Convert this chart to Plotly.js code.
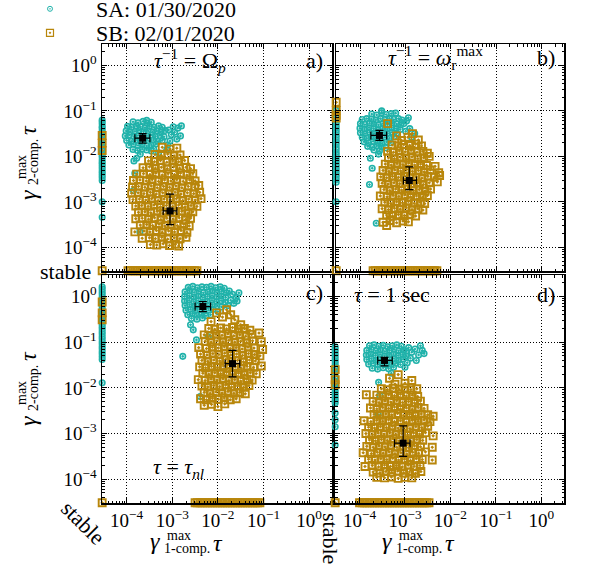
<!DOCTYPE html>
<html><head><meta charset="utf-8">
<script src="https://cdn.plot.ly/plotly-3.0.1.min.js"></script>
<style>html,body{margin:0;padding:0;background:#fff}</style>
</head><body><div id="chart" style="width:590px;height:572px"></div>
<script>
// All values are log10 exponents: [log10(gamma1*tau), log10(gamma2*tau)]
const seriesNames = ['SA: 01/30/2020', 'SB: 02/01/2020'];
const panelLabels = ['a)', 'b)', 'c)', 'd)'];

// ---------- panel a) tau^-1 = Omega_p ----------
const aSA = [[-3.86,-1.24],[-3.75,-1.26],[-3.64,-1.23],[-3.55,-1.27],[-3.46,-1.25],[-3.56,-1.21],
[-3.98,-1.34],[-3.89,-1.36],[-3.79,-1.33],[-3.70,-1.35],[-3.60,-1.37],[-3.50,-1.34],[-3.40,-1.36],[-3.30,-1.33],[-3.22,-1.36],
[-4.01,-1.44],[-3.92,-1.46],[-3.82,-1.45],[-3.73,-1.43],[-3.63,-1.46],[-3.53,-1.44],[-3.43,-1.47],[-3.34,-1.44],[-3.25,-1.46],[-3.16,-1.43],
[-4.03,-1.55],[-3.94,-1.53],[-3.84,-1.56],[-3.75,-1.54],[-3.65,-1.57],[-3.56,-1.55],[-3.46,-1.53],[-3.37,-1.56],[-3.27,-1.54],[-3.18,-1.57],
[-4.00,-1.65],[-3.90,-1.67],[-3.80,-1.64],[-3.70,-1.66],[-3.61,-1.63],[-3.51,-1.66],[-3.41,-1.64],[-3.31,-1.67],[-3.22,-1.65],
[-3.95,-1.75],[-3.85,-1.73],[-3.75,-1.76],[-3.66,-1.74],[-3.56,-1.77],[-3.46,-1.75],[-3.36,-1.73],
[-3.86,-1.85],[-3.76,-1.87],[-3.66,-1.84],[-3.56,-1.86],[-3.46,-1.88],[-3.41,-1.83],
[-3.08,-1.42],[-3.02,-1.52],[-2.95,-1.47],[-2.88,-1.38],[-2.82,-1.55],[-2.90,-1.62],[-3.05,-1.66],[-2.98,-1.35],[-3.10,-1.75],[-2.80,-1.33],
[-3.78,-2.04],[-3.84,-2.10],[-3.82,-2.37],[-3.85,-2.75],[-3.71,-3.66],[-3.30,-1.92],[-3.12,-1.85],[-3.70,-1.95]];
const aSB = [[-3.22,-1.80],[-3.05,-1.84],[-2.90,-1.82],
[-3.38,-1.96],[-3.24,-1.98],[-3.10,-1.95],[-2.96,-1.99],[-2.83,-1.97],
[-3.52,-2.10],[-3.39,-2.12],[-3.26,-2.09],[-3.12,-2.13],[-2.99,-2.10],[-2.86,-2.12],[-2.73,-2.09],
[-3.64,-2.25],[-3.50,-2.23],[-3.37,-2.26],[-3.24,-2.24],[-3.11,-2.27],[-2.97,-2.23],[-2.84,-2.26],[-2.70,-2.24],[-2.60,-2.27],
[-3.78,-2.39],[-3.63,-2.38],[-3.49,-2.40],[-3.36,-2.37],[-3.22,-2.41],[-3.09,-2.38],[-2.95,-2.40],[-2.82,-2.37],[-2.68,-2.41],[-2.55,-2.38],
[-3.85,-2.53],[-3.71,-2.52],[-3.57,-2.54],[-3.44,-2.51],[-3.30,-2.55],[-3.17,-2.52],[-3.03,-2.54],[-2.90,-2.51],[-2.76,-2.55],[-2.62,-2.52],[-2.50,-2.54],
[-3.87,-2.67],[-3.74,-2.66],[-3.60,-2.68],[-3.46,-2.65],[-3.33,-2.69],[-3.19,-2.66],[-3.06,-2.68],[-2.92,-2.65],[-2.79,-2.69],[-2.65,-2.66],[-2.51,-2.68],[-2.42,-2.64],
[-3.89,-2.81],[-3.75,-2.80],[-3.62,-2.82],[-3.48,-2.79],[-3.35,-2.83],[-3.21,-2.80],[-3.08,-2.82],[-2.94,-2.79],[-2.81,-2.83],[-2.67,-2.80],[-2.53,-2.82],[-2.40,-2.79],
[-3.86,-2.95],[-3.72,-2.94],[-3.58,-2.96],[-3.45,-2.93],[-3.31,-2.97],[-3.18,-2.94],[-3.04,-2.96],[-2.91,-2.93],[-2.77,-2.97],[-2.64,-2.94],[-2.50,-2.96],[-2.37,-2.93],
[-3.80,-3.09],[-3.67,-3.08],[-3.53,-3.10],[-3.40,-3.07],[-3.26,-3.11],[-3.13,-3.08],[-2.99,-3.10],[-2.86,-3.07],[-2.72,-3.11],[-2.59,-3.08],[-2.46,-3.10],
[-3.74,-3.23],[-3.60,-3.22],[-3.47,-3.24],[-3.33,-3.21],[-3.20,-3.25],[-3.06,-3.22],[-2.93,-3.24],[-2.79,-3.21],[-2.66,-3.25],[-2.55,-3.22],
[-3.80,-3.37],[-3.66,-3.36],[-3.52,-3.38],[-3.39,-3.35],[-3.25,-3.39],[-3.12,-3.36],[-2.98,-3.38],[-2.85,-3.35],[-2.71,-3.39],[-2.60,-3.36],
[-3.70,-3.51],[-3.56,-3.50],[-3.43,-3.52],[-3.29,-3.49],[-3.16,-3.53],[-3.02,-3.50],[-2.89,-3.52],[-2.75,-3.49],[-2.63,-3.53],
[-3.82,-3.66],[-3.62,-3.64],[-3.49,-3.66],[-3.35,-3.63],[-3.22,-3.67],[-3.08,-3.64],[-2.95,-3.66],[-2.81,-3.63],[-2.68,-3.67],
[-3.66,-3.80],[-3.50,-3.79],[-3.37,-3.81],[-3.23,-3.78],[-3.10,-3.82],[-2.96,-3.79],[-2.83,-3.81],[-2.70,-3.78],
[-3.48,-3.94],[-3.34,-3.95],[-3.20,-3.92],[-3.06,-3.96],[-2.93,-3.93],[-2.86,-3.97]];
const aSAstableY = [-1.20,-1.24,-1.29,-1.35,-1.38,-1.44,-1.49,-1.53,-1.58,-1.64,-1.69,-1.73,-1.78,-1.83,-1.87,-1.93,-1.98,-2.02,-2.08,-2.13,-2.17,-2.22,-2.27,-2.33,-2.37,-2.42,-2.47,-2.53,-3.00,-3.34];
const aSBstableY = [-1.54,-1.71,-1.87];
const aSBstableX = [-3.97,-3.92,-3.86,-3.81,-3.75,-3.70,-3.64,-3.58,-3.53,-3.47,-3.41,-3.36,-3.30,-3.24,-3.19,-3.13,-3.07,-3.02,-2.96,-2.91,-2.85,-2.79,-2.74,-2.68,-2.62,-2.57,-2.51,-2.46];

// ---------- panel b) tau^-1 = omega_r^max ----------
const bSA = [[-3.75,-1.07],[-3.64,-1.09],[-3.53,-1.04],[-3.43,-1.08],[-3.32,-1.06],[-3.22,-1.05],
[-3.96,-1.19],[-3.86,-1.17],[-3.76,-1.18],[-3.66,-1.20],[-3.56,-1.17],[-3.46,-1.19],[-3.36,-1.16],[-3.26,-1.19],[-3.16,-1.17],[-3.08,-1.20],
[-4.00,-1.28],[-3.90,-1.30],[-3.80,-1.27],[-3.70,-1.29],[-3.60,-1.31],[-3.50,-1.28],[-3.40,-1.30],[-3.30,-1.27],[-3.20,-1.29],[-3.11,-1.31],
[-4.01,-1.38],[-3.91,-1.40],[-3.81,-1.37],[-3.71,-1.39],[-3.61,-1.41],[-3.51,-1.38],[-3.41,-1.40],[-3.31,-1.37],[-3.21,-1.39],[-3.12,-1.41],
[-4.00,-1.48],[-3.90,-1.50],[-3.80,-1.47],[-3.70,-1.49],[-3.60,-1.51],[-3.50,-1.48],[-3.40,-1.50],[-3.30,-1.47],[-3.20,-1.49],
[-3.96,-1.58],[-3.86,-1.60],[-3.76,-1.57],[-3.66,-1.59],[-3.56,-1.61],[-3.46,-1.58],[-3.36,-1.60],[-3.26,-1.57],
[-3.92,-1.68],[-3.82,-1.70],[-3.72,-1.67],[-3.62,-1.69],[-3.52,-1.71],[-3.42,-1.68],[-3.33,-1.70],
[-3.84,-1.78],[-3.74,-1.80],[-3.64,-1.77],[-3.54,-1.79],[-3.44,-1.81],[-3.70,-1.86],[-3.58,-1.88],
[-3.53,-1.00],[-3.04,-1.28],[-2.91,-1.39],[-2.80,-1.50],[-2.87,-1.58],[-2.94,-1.15],[-3.00,-1.45],[-2.98,-1.22],
[-3.78,-2.04],[-3.74,-2.26],[-3.80,-2.62],[-3.65,-3.47],[-3.60,-1.95]];
const bSB = [[-3.40,-1.28],[-3.09,-1.65],[-2.72,-1.64],[-3.20,-1.55],[-2.95,-1.58],[-2.85,-1.50],
[-3.30,-1.75],[-3.17,-1.77],[-3.04,-1.74],[-2.91,-1.76],[-2.78,-1.73],[-2.65,-1.77],
[-3.40,-1.89],[-3.27,-1.91],[-3.14,-1.88],[-3.01,-1.90],[-2.88,-1.87],[-2.75,-1.91],[-2.62,-1.89],[-2.52,-1.93],
[-3.38,-2.03],[-3.25,-2.05],[-3.12,-2.02],[-2.99,-2.04],[-2.86,-2.01],[-2.73,-2.05],[-2.60,-2.03],[-2.48,-2.00],
[-3.45,-2.17],[-3.32,-2.19],[-3.19,-2.16],[-3.06,-2.18],[-2.93,-2.15],[-2.80,-2.19],[-2.67,-2.17],[-2.54,-2.20],[-2.35,-2.22],
[-3.50,-2.31],[-3.37,-2.33],[-3.24,-2.30],[-3.11,-2.32],[-2.98,-2.29],[-2.85,-2.33],[-2.72,-2.31],[-2.59,-2.34],[-2.46,-2.30],[-2.27,-2.36],
[-3.55,-2.45],[-3.42,-2.47],[-3.29,-2.44],[-3.16,-2.46],[-3.03,-2.43],[-2.90,-2.47],[-2.77,-2.45],[-2.64,-2.48],[-2.51,-2.44],[-2.37,-2.46],[-2.25,-2.42],
[-3.52,-2.59],[-3.39,-2.61],[-3.26,-2.58],[-3.13,-2.60],[-3.00,-2.57],[-2.87,-2.61],[-2.74,-2.59],[-2.61,-2.62],[-2.48,-2.58],[-2.30,-2.56],
[-3.48,-2.73],[-3.35,-2.75],[-3.22,-2.72],[-3.09,-2.74],[-2.96,-2.71],[-2.83,-2.75],[-2.70,-2.73],[-2.57,-2.76],[-2.45,-2.72],
[-3.56,-2.87],[-3.41,-2.89],[-3.28,-2.86],[-3.15,-2.88],[-3.02,-2.85],[-2.89,-2.89],[-2.76,-2.87],[-2.63,-2.90],[-2.52,-2.86],
[-3.46,-3.01],[-3.33,-3.03],[-3.20,-3.00],[-3.07,-3.02],[-2.94,-2.99],[-2.81,-3.03],[-2.68,-3.01],[-2.58,-3.04],
[-3.52,-3.15],[-3.38,-3.17],[-3.25,-3.14],[-3.12,-3.16],[-2.99,-3.13],[-2.86,-3.17],[-2.73,-3.15],[-2.62,-3.18],
[-3.42,-3.29],[-3.29,-3.31],[-3.16,-3.28],[-3.03,-3.30],[-2.90,-3.27],[-2.78,-3.31],
[-3.50,-3.45],[-3.34,-3.41],[-3.20,-3.46],[-3.06,-3.42],[-2.94,-3.44],[-3.42,-3.52]];
const bSAstableY = [-0.99,-1.04,-1.10,-1.15,-1.20,-1.26,-1.31,-1.37,-1.42,-1.47,-1.53,-1.58,-1.64,-1.69,-1.74,-1.80,-1.85,-1.91,-1.96,-2.01,-2.07,-2.12,-2.18,-2.23,-2.29,-2.34,-2.40,-2.45,-2.51,-2.57,-3.00];
const bSBstableY = [-0.81,-0.99,-1.10,-1.16];
const bSBstableX = [-3.72,-3.67,-3.61,-3.56,-3.50,-3.45,-3.39,-3.34,-3.28,-3.23,-3.17,-3.12,-3.06,-3.01,-2.95,-2.90,-2.84,-2.79,-2.73,-2.68,-2.62,-2.57,-2.51,-2.46,-2.40,-2.36,-2.31];

// ---------- panel c) tau = tau_nl ----------
const cSA = [[-2.65,0.20],[-2.55,0.22],[-2.45,0.19],[-2.35,0.21],[-2.25,0.20],[-2.15,0.22],[-2.05,0.19],[-1.95,0.21],[-1.86,0.18],
[-2.72,0.10],[-2.62,0.12],[-2.52,0.09],[-2.42,0.11],[-2.32,0.08],[-2.22,0.10],[-2.12,0.12],[-2.02,0.09],[-1.92,0.11],[-1.82,0.08],
[-2.73,0.00],[-2.63,0.02],[-2.53,-0.01],[-2.43,0.01],[-2.33,-0.02],[-2.23,0.00],[-2.13,0.02],[-2.03,-0.01],[-1.93,0.01],[-1.83,-0.02],
[-2.73,-0.10],[-2.63,-0.08],[-2.53,-0.11],[-2.43,-0.09],[-2.33,-0.12],[-2.23,-0.10],[-2.13,-0.08],[-2.03,-0.11],[-1.93,-0.09],[-1.84,-0.12],
[-2.72,-0.20],[-2.62,-0.18],[-2.52,-0.21],[-2.42,-0.19],[-2.32,-0.22],[-2.22,-0.20],[-2.12,-0.18],[-2.02,-0.21],[-1.92,-0.23],
[-2.70,-0.30],[-2.60,-0.28],[-2.50,-0.31],[-2.40,-0.29],[-2.30,-0.32],[-2.20,-0.30],[-2.10,-0.28],[-2.00,-0.33],
[-2.66,-0.40],[-2.56,-0.38],[-2.46,-0.41],[-2.36,-0.39],[-2.26,-0.42],[-2.16,-0.40],[-2.58,-0.48],[-2.46,-0.50],[-2.34,-0.47],
[-1.75,0.12],[-1.68,0.05],[-1.60,-0.02],[-1.54,0.08],[-1.72,-0.08],[-1.65,-0.15],[-1.78,-0.20],[-1.58,-0.10],
[-2.54,-0.73],[-2.47,-0.95],[-2.77,-1.31],[-2.39,-2.19],[-2.21,-0.88],[-2.60,-0.62]];
const cSB = [[-2.03,-0.36],[-1.81,-0.29],[-1.63,-0.51],[-1.90,-0.45],[-1.72,-0.40],[-2.15,-0.55],[-1.50,-0.62],
[-2.20,-0.70],[-2.07,-0.72],[-1.94,-0.69],[-1.81,-0.71],[-1.68,-0.68],[-1.55,-0.72],[-1.42,-0.70],[-1.30,-0.74],
[-2.30,-0.84],[-2.17,-0.86],[-2.04,-0.83],[-1.91,-0.85],[-1.78,-0.82],[-1.65,-0.86],[-1.52,-0.84],[-1.39,-0.87],[-1.26,-0.83],[-1.10,-0.80],
[-2.28,-0.98],[-2.15,-1.00],[-2.02,-0.97],[-1.89,-0.99],[-1.76,-0.96],[-1.63,-1.00],[-1.50,-0.98],[-1.37,-1.01],[-1.24,-0.97],[-1.05,-0.99],
[-2.42,-1.12],[-2.25,-1.14],[-2.12,-1.11],[-1.99,-1.13],[-1.86,-1.10],[-1.73,-1.14],[-1.60,-1.12],[-1.47,-1.15],[-1.34,-1.11],[-1.21,-1.13],[-1.02,-1.16],
[-2.38,-1.26],[-2.24,-1.28],[-2.11,-1.25],[-1.98,-1.27],[-1.85,-1.24],[-1.72,-1.28],[-1.59,-1.26],[-1.46,-1.29],[-1.33,-1.25],[-1.20,-1.27],[-1.08,-1.30],
[-2.35,-1.40],[-2.22,-1.42],[-2.09,-1.39],[-1.96,-1.41],[-1.83,-1.38],[-1.70,-1.42],[-1.57,-1.40],[-1.44,-1.43],[-1.31,-1.39],[-1.18,-1.41],
[-2.40,-1.54],[-2.27,-1.56],[-2.14,-1.53],[-2.01,-1.55],[-1.88,-1.52],[-1.75,-1.56],[-1.62,-1.54],[-1.49,-1.57],[-1.36,-1.53],[-1.22,-1.55],[-1.05,-1.52],
[-2.33,-1.68],[-2.20,-1.70],[-2.07,-1.67],[-1.94,-1.69],[-1.81,-1.66],[-1.68,-1.70],[-1.55,-1.68],[-1.42,-1.71],[-1.29,-1.67],[-1.16,-1.69],
[-2.43,-1.82],[-2.28,-1.84],[-2.15,-1.81],[-2.02,-1.83],[-1.89,-1.80],[-1.76,-1.84],[-1.63,-1.82],[-1.50,-1.85],[-1.37,-1.81],[-1.25,-1.83],
[-2.35,-1.96],[-2.22,-1.98],[-2.09,-1.95],[-1.96,-1.97],[-1.83,-1.94],[-1.70,-1.98],[-1.57,-1.96],[-1.44,-1.99],[-1.32,-1.95],
[-2.30,-2.10],[-2.17,-2.12],[-2.04,-2.09],[-1.91,-2.11],[-1.78,-2.08],[-1.65,-2.12],[-1.52,-2.10],[-1.40,-2.13],
[-2.38,-2.24],[-2.25,-2.26],[-2.12,-2.23],[-1.99,-2.25],[-1.86,-2.22],[-1.73,-2.26],[-1.60,-2.24],
[-2.30,-2.38],[-2.14,-2.36],[-2.00,-2.41],[-1.85,-2.35]];
const cSAstableY = [0.21,0.16,0.10,0.05,-0.01,-0.06,-0.12,-0.17,-0.22,-0.28,-0.33,-0.39,-0.44,-0.50,-0.55,-0.61,-0.66,-0.71,-0.77,-0.82,-0.88,-0.93,-0.99,-1.04,-1.10,-1.15,-1.21,-1.26,-1.32,-1.38,-1.89];
const cSBstableY = [-0.12,-0.36,-0.51];
const cSBstableX = [-2.50,-2.45,-2.39,-2.34,-2.28,-2.23,-2.17,-2.12,-2.06,-2.01,-1.95,-1.90,-1.84,-1.79,-1.73,-1.68,-1.62,-1.57,-1.51,-1.46,-1.40,-1.35,-1.29,-1.24,-1.18,-1.13,-1.08];

// ---------- panel d) tau = 1 sec ----------
const dSA = [[-3.78,-1.08],[-3.68,-1.06],[-3.58,-1.09],[-3.48,-1.07],[-3.38,-1.10],[-3.28,-1.08],[-3.18,-1.06],[-3.08,-1.09],
[-3.84,-1.18],[-3.74,-1.16],[-3.64,-1.19],[-3.54,-1.17],[-3.44,-1.20],[-3.34,-1.18],[-3.24,-1.16],[-3.14,-1.19],[-3.04,-1.17],[-2.97,-1.20],
[-3.85,-1.28],[-3.75,-1.26],[-3.65,-1.29],[-3.55,-1.27],[-3.45,-1.30],[-3.35,-1.28],[-3.25,-1.26],[-3.15,-1.29],[-3.05,-1.27],[-2.97,-1.30],
[-3.84,-1.38],[-3.74,-1.36],[-3.64,-1.39],[-3.54,-1.37],[-3.44,-1.40],[-3.34,-1.38],[-3.24,-1.36],[-3.14,-1.39],[-3.04,-1.37],
[-3.80,-1.48],[-3.70,-1.46],[-3.60,-1.49],[-3.50,-1.47],[-3.40,-1.50],[-3.30,-1.48],[-3.20,-1.46],[-3.10,-1.49],
[-3.72,-1.57],[-3.60,-1.59],[-3.48,-1.56],[-3.36,-1.58],[-3.25,-1.55],
[-2.92,-1.12],[-2.85,-1.22],[-2.78,-1.15],[-2.70,-1.28],[-2.62,-1.18],[-2.58,-1.25],[-2.88,-1.35],[-2.75,-1.40],[-2.95,-1.45],[-2.66,-1.08],[-3.00,-1.55],
[-3.58,-1.88],[-3.55,-2.17],[-3.59,-2.59],[-3.30,-1.68]];
const dSB = [[-3.34,-1.79],[-3.15,-1.71],[-2.85,-1.84],[-3.85,-2.15],[-3.00,-1.90],[-3.22,-1.92],
[-3.52,-2.02],[-3.39,-2.04],[-3.26,-2.01],[-3.13,-2.03],[-3.00,-2.00],[-2.87,-2.04],[-2.74,-2.02],
[-3.62,-2.16],[-3.49,-2.18],[-3.36,-2.15],[-3.23,-2.17],[-3.10,-2.14],[-2.97,-2.18],[-2.84,-2.16],[-2.72,-2.19],
[-3.70,-2.30],[-3.57,-2.32],[-3.44,-2.29],[-3.31,-2.31],[-3.18,-2.28],[-3.05,-2.32],[-2.92,-2.30],[-2.79,-2.33],[-2.66,-2.29],
[-3.76,-2.44],[-3.62,-2.46],[-3.49,-2.43],[-3.36,-2.45],[-3.23,-2.42],[-3.10,-2.46],[-2.97,-2.44],[-2.84,-2.47],[-2.71,-2.43],[-2.58,-2.45],
[-3.68,-2.58],[-3.55,-2.60],[-3.42,-2.57],[-3.29,-2.59],[-3.16,-2.56],[-3.03,-2.60],[-2.90,-2.58],[-2.77,-2.61],[-2.64,-2.57],[-2.50,-2.59],[-2.38,-2.62],
[-3.90,-2.72],[-3.75,-2.74],[-3.62,-2.71],[-3.49,-2.73],[-3.36,-2.70],[-3.23,-2.74],[-3.10,-2.72],[-2.97,-2.75],[-2.84,-2.71],[-2.71,-2.73],[-2.58,-2.70],[-2.45,-2.74],
[-3.80,-2.86],[-3.67,-2.88],[-3.54,-2.85],[-3.41,-2.87],[-3.28,-2.84],[-3.15,-2.88],[-3.02,-2.86],[-2.89,-2.89],[-2.76,-2.85],[-2.63,-2.87],[-2.50,-2.84],
[-3.86,-3.00],[-3.72,-3.02],[-3.59,-2.99],[-3.46,-3.01],[-3.33,-2.98],[-3.20,-3.02],[-3.07,-3.00],[-2.94,-3.03],[-2.81,-2.99],[-2.68,-3.01],[-2.55,-2.98],[-2.38,-3.05],
[-3.78,-3.14],[-3.65,-3.16],[-3.52,-3.13],[-3.39,-3.15],[-3.26,-3.12],[-3.13,-3.16],[-3.00,-3.14],[-2.87,-3.17],[-2.74,-3.13],[-2.61,-3.15],
[-3.84,-3.28],[-3.70,-3.30],[-3.57,-3.27],[-3.44,-3.29],[-3.31,-3.26],[-3.18,-3.30],[-3.05,-3.28],[-2.92,-3.31],[-2.79,-3.27],[-2.66,-3.29],[-2.40,-3.30],
[-3.92,-3.42],[-3.74,-3.44],[-3.61,-3.41],[-3.48,-3.43],[-3.35,-3.40],[-3.22,-3.44],[-3.09,-3.42],[-2.96,-3.45],[-2.83,-3.41],[-2.70,-3.43],[-2.55,-3.40],
[-3.80,-3.56],[-3.66,-3.58],[-3.53,-3.55],[-3.40,-3.57],[-3.27,-3.54],[-3.14,-3.58],[-3.01,-3.56],[-2.88,-3.59],[-2.75,-3.55],[-2.62,-3.57],[-2.40,-3.58],
[-3.88,-3.72],[-3.72,-3.70],[-3.58,-3.73],[-3.45,-3.69],[-3.32,-3.72],[-3.19,-3.70],[-3.06,-3.73],[-2.93,-3.69],[-2.80,-3.72],[-2.67,-3.70],
[-3.70,-3.84],[-3.55,-3.86],[-3.42,-3.83],[-3.29,-3.85],[-3.16,-3.82],[-3.03,-3.86],[-2.90,-3.84],[-2.77,-3.87],[-2.65,-3.83],
[-3.62,-3.96],[-3.45,-3.97],[-3.30,-3.95],[-3.15,-3.98],[-3.00,-3.96],[-2.85,-3.97]];
const dSAstableY = [-1.10,-1.15,-1.20,-1.26,-1.31,-1.37,-1.42,-1.48,-1.53,-1.58,-1.64,-1.69,-1.75,-1.80,-1.86,-1.91,-1.97,-2.02,-2.08,-2.13,-2.19,-2.24,-2.29,-2.33,-2.55,-2.70,-2.85,-3.25];
const dSBstableY = [-1.60,-1.82,-1.93];
const dSBstableX = [-4.00,-3.94,-3.89,-3.83,-3.78,-3.72,-3.67,-3.61,-3.56,-3.50,-3.45,-3.39,-3.34,-3.28,-3.23,-3.17,-3.12,-3.06,-3.01,-2.95,-2.90,-2.84,-2.79,-2.73,-2.68,-2.62,-2.57,-2.52,-2.47];

// means with spread: [mean, low, high] in log10 units, for x and y
const meanSAx = [[-3.65,-3.82,-3.49],[-3.58,-3.77,-3.42],[-2.33,-2.50,-2.16],[-3.45,-3.60,-3.28]];
const meanSAy = [[-1.60,-1.71,-1.50],[-1.54,-1.65,-1.43],[-0.22,-0.33,-0.11],[-1.40,-1.52,-1.33]];
const meanSBx = [[-3.05,-3.20,-2.90],[-2.92,-3.05,-2.76],[-1.68,-1.84,-1.52],[-3.04,-3.23,-2.89]];
const meanSBy = [[-3.20,-3.50,-2.83],[-2.53,-2.73,-2.23],[-1.47,-1.76,-1.18],[-3.21,-3.50,-2.83]];

const tickVals = [1e-4, 1e-3, 1e-2, 1e-1, 1];
const tickText = ['10<sup>−4</sup>','10<sup>−3</sup>','10<sup>−2</sup>','10<sup>−1</sup>','10<sup>0</sup>'];

// ---------------- build ----------------
const TEAL = '#20b2aa', GOLD = '#b8860b';
const FONT = 'Liberation Serif';
const XR = [-4.54, 0.50], YR = [-4.52, 0.47];
const STX = Math.pow(10, XR[0] + 0.004), STY = Math.pow(10, YR[0] + 0.004);
const p10 = v => Math.pow(10, v);

const panels = [
  {SA:aSA, SB:aSB, saY:aSAstableY, sbY:aSBstableY, sbX:aSBstableX},
  {SA:bSA, SB:bSB, saY:bSAstableY, sbY:bSBstableY, sbX:bSBstableX},
  {SA:cSA, SB:cSB, saY:cSAstableY, sbY:cSBstableY, sbX:cSBstableX},
  {SA:dSA, SB:dSB, saY:dSAstableY, sbY:dSBstableY, sbX:dSBstableX}
];
const saMarker = {symbol:'circle-open-dot', size:5.5, color:TEAL, line:{width:1.6, color:TEAL}};
const sbMarker = {symbol:'square-open-dot', size:7, color:GOLD, line:{width:1.9, color:GOLD}};
const saLeg = {symbol:'circle-open-dot', size:5, color:TEAL, line:{width:1, color:TEAL}};
const sbLeg = {symbol:'square-open-dot', size:7, color:GOLD, line:{width:1.2, color:GOLD}};

const traces = [];
panels.forEach((p, i) => {
  const xa = i === 0 ? 'x' : 'x' + (i + 1), ya = i === 0 ? 'y' : 'y' + (i + 1);
  const base = {type:'scatter', mode:'markers', xaxis:xa, yaxis:ya, hoverinfo:'skip', showlegend:false};
  traces.push(Object.assign({}, base, {x:p.SA.map(d=>p10(d[0])), y:p.SA.map(d=>p10(d[1])), marker:saMarker}));
  traces.push(Object.assign({}, base, {x:p.saY.map(()=>STX), y:p.saY.map(p10), marker:saMarker, cliponaxis:false}));
  traces.push(Object.assign({}, base, {x:p.SB.map(d=>p10(d[0])), y:p.SB.map(d=>p10(d[1])), marker:sbMarker}));
  traces.push(Object.assign({}, base, {x:p.sbY.map(()=>STX).concat(p.sbX.map(p10)).concat([STX]),
    y:p.sbY.map(p10).concat(p.sbX.map(()=>STY)).concat([STY]), marker:sbMarker, cliponaxis:false}));
  [[meanSAx, meanSAy], [meanSBx, meanSBy]].forEach(([mx, my]) => {
    const X = mx[i], Y = my[i];
    traces.push(Object.assign({}, base, {x:[p10(X[0])], y:[p10(Y[0])],
      marker:{symbol:'square', size:7, color:'#000'},
      error_x:{type:'data', symmetric:false, array:[p10(X[2])-p10(X[0])], arrayminus:[p10(X[0])-p10(X[1])], color:'#000', thickness:1.2, width:4},
      error_y:{type:'data', symmetric:false, array:[p10(Y[2])-p10(Y[0])], arrayminus:[p10(Y[0])-p10(Y[1])], color:'#000', thickness:1.2, width:4}}));
  });
});
// legend entries (no visible points of their own)
traces.push({type:'scatter', mode:'markers', x:[null], y:[null], xaxis:'x', yaxis:'y', name:seriesNames[0], marker:saLeg, showlegend:true, legend:'legend'});
traces.push({type:'scatter', mode:'markers', x:[null], y:[null], xaxis:'x', yaxis:'y', name:seriesNames[1], marker:sbLeg, showlegend:true, legend:'legend2'});

const minorVals = [];
for (let e = -5; e <= 0; e++) for (let k = 2; k <= 9; k++) minorVals.push(k * Math.pow(10, e));

function axis(domain, range, labels, anchor) {
  return {type:'log', domain, range, anchor, showline:true, linewidth:1.5, linecolor:'#000', mirror:'ticks',
    ticks:'inside', ticklen:5, tickwidth:1, tickcolor:'#000',
    showgrid:true, gridcolor:'#000', griddash:'1px,2px', gridwidth:1, zeroline:false,
    tickmode:'array', tickvals:tickVals, ticktext:tickText, showticklabels:labels,
    tickfont:{family:FONT, size:19, color:'#000'},
    minor:{ticks:'inside', ticklen:2.5, tickwidth:1, tickcolor:'#000', tickmode:'array', tickvals:minorVals, showgrid:false}};
}
const W = 590, H = 572;
const fx = px => px / W, fy = py => 1 - py / H;
const dom = {
  a:{x:[fx(102), fx(332)], y:[fy(271), fy(44)]},
  b:{x:[fx(336), fx(564)], y:[fy(271), fy(44)]},
  c:{x:[fx(102), fx(332)], y:[fy(503), fy(275)]},
  d:{x:[fx(335), fx(564)], y:[fy(503), fy(275)]}
};

function ann(text, px, py, size, extra) {
  return Object.assign({text, x:fx(px), y:fy(py), xref:'paper', yref:'paper', showarrow:false,
    xanchor:'center', yanchor:'middle', font:{family:FONT, size, color:'#000'}}, extra || {});
}
const annotations = [
  ann('<i>τ</i><sup>−1</sup> = Ω<sub><i>p</i></sub>', 190, 60, 22),
  ann(panelLabels[0], 314, 60, 22),
  ann('<i>τ</i><sup>−1</sup> = <i>ω</i><sub>r</sub><sup>max</sup>', 435, 57, 22),
  ann(panelLabels[1], 546, 58, 22),
  ann(panelLabels[2], 314, 293, 22),
  ann('<i>τ</i> = 1 sec', 392, 294, 22),
  ann(panelLabels[3], 546, 294, 22),
  ann('<i>τ</i> = <i>τ<sub>nl</sub></i>', 178, 468, 22),
  ann('stable', 93, 271, 22, {xanchor:'right'}),
  ann('stable', 83, 522, 22, {textangle:45}),
  ann('stable', 331, 538, 22, {textangle:90}),
];
// axis titles (stacked super/subscripts)
[0, 226].forEach(off => {
  annotations.push(ann('<i>γ</i>', 28, 195 + off, 24, {textangle:-90}));
  annotations.push(ann('max', 21, 167 + off, 14, {textangle:-90}));
  annotations.push(ann('2-comp.', 33, 162 + off, 14, {textangle:-90}));
  annotations.push(ann('<i>τ</i>', 28, 130 + off, 24, {textangle:-90}));
});
[0, 232].forEach(off => {
  annotations.push(ann('<i>γ</i>', 155 + off, 541, 24));
  annotations.push(ann('max', 179 + off, 535, 14));
  annotations.push(ann('1-comp.', 187 + off, 548, 14));
  annotations.push(ann('<i>τ</i>', 218 + off, 543, 24));
});

const layout = {
  width:W, height:H, margin:{l:0, r:0, t:0, b:0, autoexpand:false},
  paper_bgcolor:'#fff', plot_bgcolor:'#fff', font:{family:FONT, color:'#000'},
  xaxis: axis(dom.a.x, XR, false, 'y'), yaxis: axis(dom.a.y, YR, true, 'x'),
  xaxis2: axis(dom.b.x, XR, false, 'y2'), yaxis2: axis(dom.b.y, YR, false, 'x2'),
  xaxis3: axis(dom.c.x, XR, true, 'y3'), yaxis3: axis(dom.c.y, YR, true, 'x3'),
  xaxis4: axis(dom.d.x, XR, true, 'y4'), yaxis4: axis(dom.d.y, YR, false, 'x4'),
  legend:{x:fx(4), y:fy(9), xanchor:'left', yanchor:'middle', itemwidth:82, bgcolor:'rgba(0,0,0,0)',
    font:{family:FONT, size:22, color:'#000'}},
  legend2:{x:fx(4), y:fy(33), xanchor:'left', yanchor:'middle', itemwidth:82, bgcolor:'rgba(0,0,0,0)',
    font:{family:FONT, size:22, color:'#000'}},
  annotations
};
Plotly.newPlot('chart', traces, layout, {staticPlot:true, displayModeBar:false});
</script></body></html>
